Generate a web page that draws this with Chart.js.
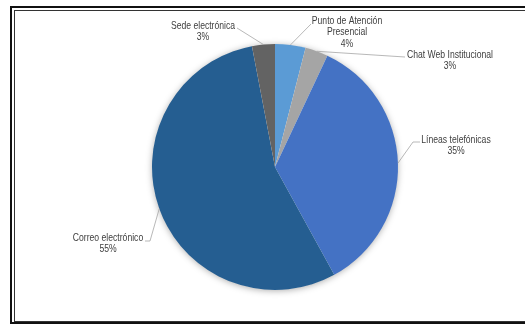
<!DOCTYPE html>
<html>
<head>
<meta charset="utf-8">
<script src="https://cdn.jsdelivr.net/npm/chart.js@4/dist/chart.umd.min.js"></script>
<style>
  html, body { margin: 0; padding: 0; background: #fff; overflow: hidden; }
  #wrap { position: relative; width: 525px; height: 325px; }
  .frame { position: absolute; box-sizing: content-box; }
  .outer { left: 10px; top: 6px; width: 530px; height: 314px; border: 2px solid #111; }
  .inner { left: 14px; top: 10px; width: 530px; height: 310px; border: 1px solid #333; }
  canvas { position: absolute; left: 0; top: 0; }
</style>
</head>
<body>
<div id="wrap">
  <div class="frame outer"></div>
  <div class="frame inner"></div>
  <canvas id="pie" width="525" height="325"></canvas>
</div>
<script>
/* Canales de atención: share per channel, clockwise from 12 o'clock */
const channels = ['Punto de Atención\nPresencial', 'Chat Web Institucional', 'Líneas telefónicas', 'Correo electrónico', 'Sede electrónica'];
const shares = [4, 3, 35, 55, 3];
const sliceColors = ['#5b9bd5', '#a5a5a5', '#4472c4', '#255e91', '#636363'];

/* where each data label sits and the elbow of its leader line */
const labelLayout = [
  { x: 347, y: 21, path: [[311, 24]] },
  { x: 450, y: 55, path: [[405, 57]] },
  { x: 456, y: 140, path: [[420, 142], [413, 142]] },
  { x: 108, y: 238, path: [[145, 241], [150, 241]] },
  { x: 203, y: 26, path: [[237, 28]] }
];

// Arial-metric face squeezed horizontally, reads like Arial Narrow
const FONT = '10.5px "Liberation Sans", Arial, sans-serif';
const NARROW = 0.82;

// soft shadow under the whole pie
const pieShadow = {
  id: 'pieShadow',
  beforeDatasetsDraw(chart) {
    const arc = chart.getDatasetMeta(0).data[0];
    if (!arc) return;
    const ctx = chart.ctx;
    ctx.save();
    ctx.shadowColor = 'rgba(0,0,0,0.35)';
    ctx.shadowBlur = 7;
    ctx.shadowOffsetY = 1;
    ctx.fillStyle = '#fff';
    ctx.beginPath();
    ctx.arc(arc.x, arc.y, arc.outerRadius - 0.5, 0, Math.PI * 2);
    ctx.fill();
    ctx.restore();
  }
};

// outside labels with leader lines back to the slice edge
const outsideLabels = {
  id: 'outsideLabels',
  afterDatasetsDraw(chart) {
    const ctx = chart.ctx;
    const arcs = chart.getDatasetMeta(0).data;
    ctx.save();
    arcs.forEach((arc, i) => {
      const lay = labelLayout[i];
      const mid = (arc.startAngle + arc.endAngle) / 2;
      const ex = arc.x + Math.cos(mid) * arc.outerRadius;
      const ey = arc.y + Math.sin(mid) * arc.outerRadius;

      ctx.strokeStyle = '#a6a6a6';
      ctx.lineWidth = 0.8;
      ctx.beginPath();
      ctx.moveTo(lay.path[0][0], lay.path[0][1]);
      lay.path.slice(1).forEach(p => ctx.lineTo(p[0], p[1]));
      ctx.lineTo(ex, ey);
      ctx.stroke();

      const lines = channels[i].split('\n').concat(shares[i] + '%');
      ctx.font = FONT;
      ctx.fillStyle = '#404040';
      ctx.textAlign = 'center';
      ctx.textBaseline = 'middle';
      lines.forEach((t, k) => {
        ctx.save();
        ctx.translate(lay.x, lay.y + k * 11.5);
        ctx.scale(NARROW, 1);
        ctx.fillText(t, 0, 0);
        ctx.restore();
      });
    });
    ctx.restore();
  }
};

new Chart(document.getElementById('pie'), {
  type: 'pie',
  data: {
    labels: channels,
    datasets: [{
      data: shares,
      backgroundColor: sliceColors,
      borderWidth: 0,
      hoverOffset: 0,
      offset: 0
    }]
  },
  options: {
    responsive: false,
    animation: false,
    events: [],
    layout: { padding: { left: 152, right: 127, top: 44, bottom: 35 } },
    plugins: {
      legend: { display: false },
      tooltip: { enabled: false }
    }
  },
  plugins: [pieShadow, outsideLabels]
});
</script>
</body>
</html>
